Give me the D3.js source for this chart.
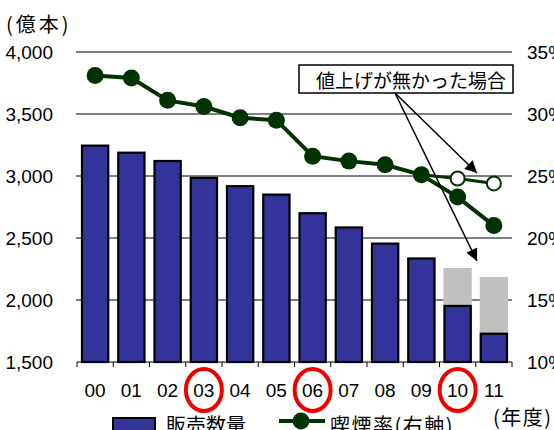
<!DOCTYPE html>
<html>
<head>
<meta charset="utf-8">
<script src="https://cdn.jsdelivr.net/npm/d3@7"></script>
<style>
  html, body { margin: 0; padding: 0; background: #fff; }
  svg { display: block; }
  .num { font-family: "Liberation Sans", Arial, sans-serif; }
  .jp { font-family: "Noto Sans CJK JP", sans-serif; }
</style>
</head>
<body>
<svg id="chart" width="554" height="430"></svg>
<script>
// Fiscal years
const years = ["00", "01", "02", "03", "04", "05", "06", "07", "08", "09", "10", "11"];
// Cigarette sales volume (100 million sticks)
const sales = [3245, 3188, 3121, 2985, 2918, 2850, 2700, 2585, 2455, 2335, 1952, 1728];
// Sales volume had there been no tax increase (FY10, FY11)
const salesNoHike = [null, null, null, null, null, null, null, null, null, null, 2258, 2185];
// Smoking rate (%), right axis
const smokingRate = [33.1, 32.9, 31.1, 30.6, 29.7, 29.5, 26.6, 26.2, 25.9, 25.1, 23.3, 21.0];
// Smoking rate had there been no tax increase (continues from FY09)
const rateNoHike = [null, null, null, null, null, null, null, null, null, 25.1, 24.8, 24.4];
// Years with a tobacco tax increase
const hikeYears = ["03", "06", "10"];
// Axis ticks
const leftTicks = [1500, 2000, 2500, 3000, 3500, 4000];
const rightTicks = [10, 15, 20, 25, 30, 35];

const svg = d3.select("#chart");
const plotL = 77, plotR = 512, plotT = 52, plotB = 362;
const green = "#003300", blue = "#333399";

const x = d3.scaleBand().domain(years).range([plotL, plotR]).paddingInner(0.22).paddingOuter(0.11);
const y = d3.scaleLinear().domain([1500, 4000]).range([plotB, plotT]);
const y2 = d3.scaleLinear().domain([10, 35]).range([plotB, plotT]);

// Horizontal gridlines
svg.append("g").selectAll("line").data(leftTicks.slice(1)).join("line")
  .attr("x1", plotL - 1).attr("x2", plotR)
  .attr("y1", d => y(d)).attr("y2", d => y(d))
  .attr("stroke", "#000").attr("stroke-width", 1);

// Left axis labels
const leftAxis = d3.axisLeft(y).tickValues(leftTicks).tickSize(0).tickPadding(24)
  .tickFormat(d3.format(","));
const gl = svg.append("g").attr("transform", `translate(${plotL},0)`).call(leftAxis);
gl.select(".domain").remove();
gl.selectAll("text").attr("class", "num").style("font-size", "19px").attr("fill", "#000")
  .attr("font-family", null);

// Right axis labels
const rightAxis = d3.axisRight(y2).tickValues(rightTicks).tickSize(0).tickPadding(15)
  .tickFormat(d => d + "%");
const gr = svg.append("g").attr("transform", `translate(${plotR},0)`).call(rightAxis);
gr.select(".domain").remove();
gr.selectAll("text").attr("class", "num").style("font-size", "19px").attr("fill", "#000")
  .attr("font-family", null);

// Grey bars: volume without tax increase
svg.append("g").selectAll("rect").data(years.filter((d, i) => salesNoHike[i] != null)).join("rect")
  .attr("x", d => x(d))
  .attr("width", x.bandwidth())
  .attr("y", d => y(salesNoHike[years.indexOf(d)]))
  .attr("height", d => plotB - y(salesNoHike[years.indexOf(d)]))
  .attr("fill", "#c0c0c0");

// Sales bars
svg.append("g").selectAll("rect").data(years).join("rect")
  .attr("x", d => x(d) + 1)
  .attr("width", x.bandwidth() - 2)
  .attr("y", (d, i) => y(sales[i]))
  .attr("height", (d, i) => plotB - y(sales[i]))
  .attr("fill", blue).attr("stroke", "#000").attr("stroke-width", 2.2);

// Bottom axis with ticks between categories
svg.append("line").attr("x1", plotL).attr("x2", plotR).attr("y1", plotB).attr("y2", plotB)
  .attr("stroke", "#000").attr("stroke-width", 1.2);
const bounds = d3.range(years.length + 1).map(i => plotL + i * x.step());
svg.append("g").selectAll("line").data(bounds).join("line")
  .attr("x1", d => d).attr("x2", d => d).attr("y1", plotB).attr("y2", plotB + 5)
  .attr("stroke", "#000").attr("stroke-width", 1);

// Category labels
const xc = d => x(d) + x.bandwidth() / 2;
svg.append("g").selectAll("text").data(years).join("text")
  .attr("class", "num")
  .attr("x", xc).attr("y", 390)
  .attr("text-anchor", "middle").attr("dominant-baseline", "central")
  .style("font-size", "19px").text(d => d);

// Red rings on tax-increase years
svg.append("g").selectAll("ellipse").data(hikeYears).join("ellipse")
  .attr("cx", xc).attr("cy", 390).attr("rx", 18).attr("ry", 21)
  .attr("fill", "none").attr("stroke", "#ee0000").attr("stroke-width", 4);

// Smoking rate without tax increase
const noHikeIdx = years.map((d, i) => i).filter(i => rateNoHike[i] != null);
const line = d3.line().x(i => xc(years[i]));
svg.append("path")
  .attr("d", line.y(i => y2(rateNoHike[i]))(noHikeIdx))
  .attr("fill", "none").attr("stroke", green).attr("stroke-width", 3);
svg.append("g").selectAll("circle").data(noHikeIdx.slice(1)).join("circle")
  .attr("cx", i => xc(years[i])).attr("cy", i => y2(rateNoHike[i])).attr("r", 7)
  .attr("fill", "#fff").attr("stroke", green).attr("stroke-width", 2);

// Smoking rate line
const allIdx = years.map((d, i) => i);
svg.append("path")
  .attr("d", line.y(i => y2(smokingRate[i]))(allIdx))
  .attr("fill", "none").attr("stroke", green).attr("stroke-width", 4);
svg.append("g").selectAll("circle").data(allIdx).join("circle")
  .attr("cx", i => xc(years[i])).attr("cy", i => y2(smokingRate[i])).attr("r", 8.5)
  .attr("fill", green);

// Callout
const defs = svg.append("defs");
defs.append("marker").attr("id", "arrow").attr("viewBox", "0 0 10 10")
  .attr("refX", 10).attr("refY", 5).attr("markerWidth", 14).attr("markerHeight", 12)
  .attr("markerUnits", "userSpaceOnUse").attr("orient", "auto")
  .append("path").attr("d", "M0,0 L10,5 L0,10 Z").attr("fill", "#000");

svg.append("rect").attr("x", 299).attr("y", 65).attr("width", 214).attr("height", 28)
  .attr("fill", "#fff").attr("stroke", "#000").attr("stroke-width", 1.5);
svg.append("text").attr("class", "jp").attr("x", 411).attr("y", 79)
  .attr("text-anchor", "middle").attr("dominant-baseline", "central")
  .style("font-size", "19px").text("値上げが無かった場合");

const arrowFrom = [395, 93];
const arrowTo = [[477, 173], [477, 261]];
svg.append("g").selectAll("line").data(arrowTo).join("line")
  .attr("x1", arrowFrom[0]).attr("y1", arrowFrom[1])
  .attr("x2", d => d[0]).attr("y2", d => d[1])
  .attr("stroke", "#000").attr("stroke-width", 1.5)
  .attr("marker-end", "url(#arrow)");

// Axis titles
svg.append("text").attr("class", "jp").attr("x", 6).attr("y", 23)
  .attr("dominant-baseline", "central").style("font-size", "20px")
  .style("letter-spacing", "3px").text("(億本)");
svg.append("text").attr("class", "jp").attr("x", 493).attr("y", 416)
  .attr("dominant-baseline", "central").style("font-size", "20px")
  .style("letter-spacing", "1.5px").text("(年度)");

// Legend
svg.append("rect").attr("x", 113).attr("y", 418).attr("width", 42).attr("height", 18)
  .attr("fill", blue).attr("stroke", "#000").attr("stroke-width", 2);
svg.append("text").attr("class", "jp").attr("x", 166).attr("y", 424)
  .attr("dominant-baseline", "central").style("font-size", "20px").text("販売数量");
svg.append("line").attr("x1", 279).attr("x2", 325).attr("y1", 421).attr("y2", 421)
  .attr("stroke", green).attr("stroke-width", 4);
svg.append("circle").attr("cx", 301).attr("cy", 421).attr("r", 8.5).attr("fill", green);
svg.append("text").attr("class", "jp").attr("x", 330).attr("y", 424)
  .attr("dominant-baseline", "central").style("font-size", "20px")
  .style("letter-spacing", "1.5px").text("喫煙率(右軸)");
</script>
</body>
</html>
